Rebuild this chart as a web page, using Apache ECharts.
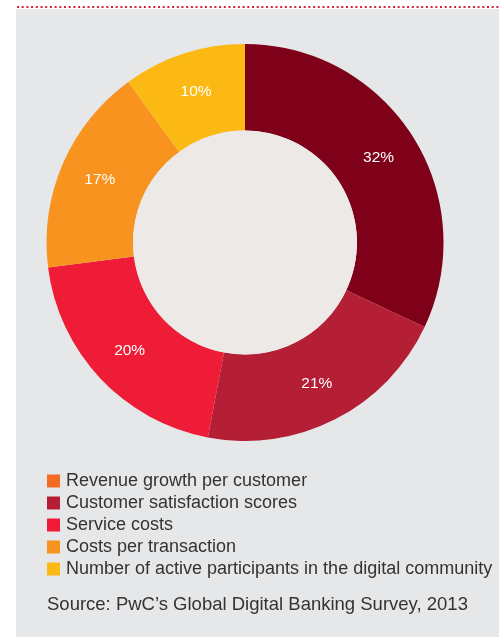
<!DOCTYPE html>
<html>
<head>
<meta charset="utf-8">
<script src="https://cdn.jsdelivr.net/npm/echarts@6/dist/echarts.min.js"></script>
<style>
  html, body { margin: 0; padding: 0; background: #fff; }
  #chart { width: 499px; height: 638px; }
</style>
</head>
<body>
<div id="chart"></div>
<script>
// data
const categories = [
  'Revenue growth per customer',
  'Customer satisfaction scores',
  'Service costs',
  'Costs per transaction',
  'Number of active participants in the digital community'
];
const shares = [32, 21, 20, 17, 10];
const sliceColors = ['#7e0019', '#b51f36', '#ee1c37', '#f7931e', '#fdb913'];
const legendColors = ['#f26c23', '#b51f36', '#ee1c37', '#f7931e', '#fdb913'];
const sourceText = 'Source: PwC\u2019s Global Digital Banking Survey, 2013';

const chart = echarts.init(document.getElementById('chart'));

const font = '"Liberation Sans", Arial, Helvetica, sans-serif';

chart.setOption({
  animation: false,
  backgroundColor: '#ffffff',
  graphic: [
    // grey panel
    { type: 'rect', z: -10, shape: { x: 16, y: 9, width: 483, height: 628 }, style: { fill: '#e6e7e9' } },
    // dotted red rule on top
    {
      type: 'line', z: -9,
      shape: { x1: 17, y1: 7, x2: 499, y2: 7 },
      style: { stroke: '#d6213f', lineWidth: 2, lineDash: [2, 2.7] }
    }
  ],
  title: {
    text: sourceText,
    left: 47,
    top: 596,
    padding: 0,
    textStyle: { fontFamily: font, fontSize: 18.5, fontWeight: 'normal', color: '#333', lineHeight: 18 }
  },
  legend: {
    orient: 'vertical',
    left: 47,
    top: 472,
    padding: 0,
    icon: 'rect',
    itemWidth: 13,
    itemHeight: 13,
    itemGap: 4,
    selectedMode: false,
    textStyle: { fontFamily: font, fontSize: 18, color: '#333', lineHeight: 18, padding: [0, 0, 0, 1] },
    data: categories.map((name, i) => ({ name, itemStyle: { color: legendColors[i] } }))
  },
  series: [
    {
      type: 'pie',
      center: [245, 242.5],
      radius: [112, 198.5],
      startAngle: 90,
      clockwise: true,
      silent: true,
      label: {
        show: true,
        position: 'inside',
        formatter: '{c}%',
        fontFamily: font,
        fontSize: 15.5,
        color: '#ffffff'
      },
      labelLine: { show: false },
      data: categories.map((name, i) => ({
        name,
        value: shares[i],
        itemStyle: { color: sliceColors[i] }
      }))
    },
    {
      // pale centre disc
      type: 'pie',
      center: [245, 242.5],
      radius: [0, 112],
      silent: true,
      label: { show: false },
      labelLine: { show: false },
      data: [{ name: 'centre', value: 1, itemStyle: { color: '#ece9e6' } }]
    }
  ]
});
</script>
</body>
</html>
